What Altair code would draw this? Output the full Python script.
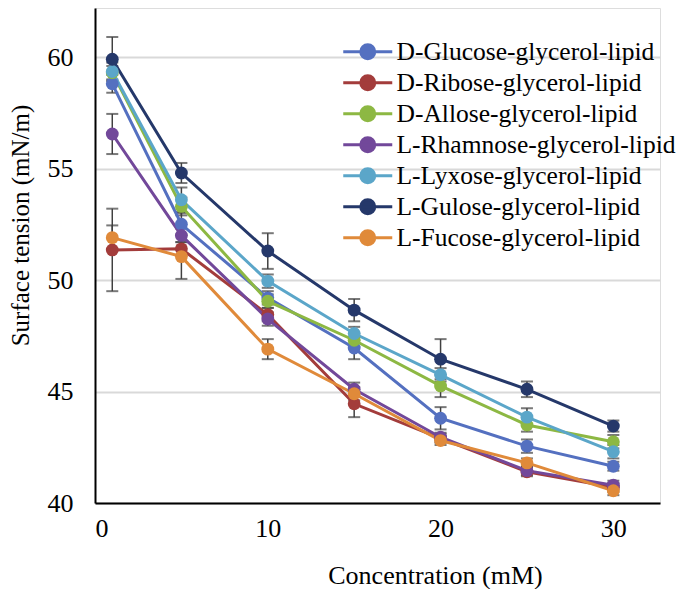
import altair as alt
import pandas as pd

conc = [1, 5, 10, 15, 20, 25, 30]
series = [
    "D-Glucose-glycerol-lipid",
    "D-Ribose-glycerol-lipid",
    "D-Allose-glycerol-lipid",
    "L-Rhamnose-glycerol-lipid",
    "L-Lyxose-glycerol-lipid",
    "L-Gulose-glycerol-lipid",
    "L-Fucose-glycerol-lipid",
]
glucose = [58.8, 52.5, 49.2, 46.95, 43.8, 42.55, 41.65]
ribose = [51.35, 51.4, 48.45, 44.45, 42.9, 41.4, 40.7]
allose = [59.3, 53.3, 49.05, 47.3, 45.25, 43.5, 42.75]
rhamnose = [56.55, 52.0, 48.25, 45.1, 42.95, 41.45, 40.8]
lyxose = [59.35, 53.6, 49.95, 47.6, 45.75, 43.85, 42.3]
gulose = [59.9, 54.8, 51.3, 48.65, 46.45, 45.1, 43.45]
fucose = [51.9, 51.05, 46.9, 44.9, 42.8, 41.8, 40.55]

err_glucose = [0.4, 0.5, 0.3, 0.5, 0.5, 0.3, 0.2]
err_ribose = [1.85, 0.3, 0.3, 0.6, 0.2, 0.2, 0.2]
err_allose = [0.3, 0.4, 0.3, 0.3, 0.5, 0.3, 0.3]
err_rhamnose = [0.9, 0.3, 0.3, 0.3, 0.2, 0.2, 0.2]
err_lyxose = [0.4, 0.55, 0.3, 0.3, 0.3, 0.4, 0.3]
err_gulose = [1.0, 0.45, 0.8, 0.5, 0.9, 0.35, 0.25]
err_fucose = [0.55, 1.0, 0.45, 0.3, 0.2, 0.2, 0.2]

colors = ["#5470C0", "#A33C3B", "#8DB843", "#72489A", "#5BA6C9", "#25386A", "#E08A3A"]

all_vals = [glucose, ribose, allose, rhamnose, lyxose, gulose, fucose]
all_errs = [err_glucose, err_ribose, err_allose, err_rhamnose, err_lyxose, err_gulose, err_fucose]

rows = []
for i, (s, vals, errs) in enumerate(zip(series, all_vals, all_errs)):
    for c, v, e in zip(conc, vals, errs):
        rows.append({"series": s, "idx": i, "conc": c, "tension": v, "lo": v - e, "hi": v + e})
df = pd.DataFrame(rows)

FONT = "Liberation Serif"

xs = alt.Scale(domain=[0, 32.7], nice=False, zero=False)
ys = alt.Scale(domain=[40, 62.2], nice=False, zero=False)
cs = alt.Scale(domain=series, range=colors)

x_axis = alt.Axis(
    title="Concentration (mM)", values=[0, 10, 20, 30], grid=False, ticks=False,
    domainColor="black", domainWidth=2, labelFont=FONT, labelFontSize=26, labelColor="black",
    labelPadding=12, titleFont=FONT, titleFontSize=26, titleFontWeight="normal", titleColor="black",
    titleX=340, titleY=72, titleBaseline="middle", titleAlign="center",
)
y_axis = alt.Axis(
    title="Surface tension (mN/m)", values=[40, 45, 50, 55, 60], grid=True, gridColor="#d9d9d9",
    gridWidth=2, ticks=False, domainColor="black", domainWidth=2, labelFont=FONT, labelFontSize=26,
    labelColor="black", labelPadding=22, titleFont=FONT, titleFontSize=25, titleFontWeight="normal",
    titleColor="black", titleX=-75, titleY=217, titleAngle=-90, titleBaseline="middle", titleAlign="center",
)

legend = alt.Legend(
    title=None, orient="none", legendX=260, legendY=31,
    symbolType="M-3.5,0L3.5,0M1,0A1,1 0 1,1 -1,0A1,1 0 1,1 1,0Z",
    symbolSize=196, symbolStrokeWidth=3, labelFont=FONT, labelFontSize=25.5, labelColor="black",
    labelOffset=16, rowPadding=3, labelLimit=400,
)

base = alt.Chart(df)

rules = base.mark_rule(color="#404040", strokeWidth=1.5).encode(
    x=alt.X("conc:Q", scale=xs, axis=x_axis),
    y=alt.Y("lo:Q", scale=ys, axis=y_axis),
    y2="hi:Q",
)
cap_hi = base.mark_tick(color="#404040", thickness=2, size=12, orient="horizontal").encode(
    x=alt.X("conc:Q", scale=xs), y=alt.Y("hi:Q", scale=ys)
)
cap_lo = base.mark_tick(color="#404040", thickness=2, size=12, orient="horizontal").encode(
    x=alt.X("conc:Q", scale=xs), y=alt.Y("lo:Q", scale=ys)
)

lines = base.mark_line(strokeWidth=3).encode(
    x=alt.X("conc:Q", scale=xs),
    y=alt.Y("tension:Q", scale=ys),
    color=alt.Color("series:N", scale=cs, legend=legend, sort=series),
    order="conc:Q",
)

points = base.mark_circle(size=165, opacity=1).encode(
    x=alt.X("conc:Q", scale=xs),
    y=alt.Y("tension:Q", scale=ys),
    color=alt.Color("series:N", scale=cs, legend=legend, sort=series),
    order="idx:Q",
)

chart = alt.layer(rules, cap_hi, cap_lo, lines, points).properties(
    width=565, height=495, autosize="none",
    padding={"left": 87, "top": 0, "right": 20, "bottom": 86},
).configure_view(strokeWidth=0).configure(background="white")

chart.save("out.html", embed_options={"renderer": "svg", "actions": False})
